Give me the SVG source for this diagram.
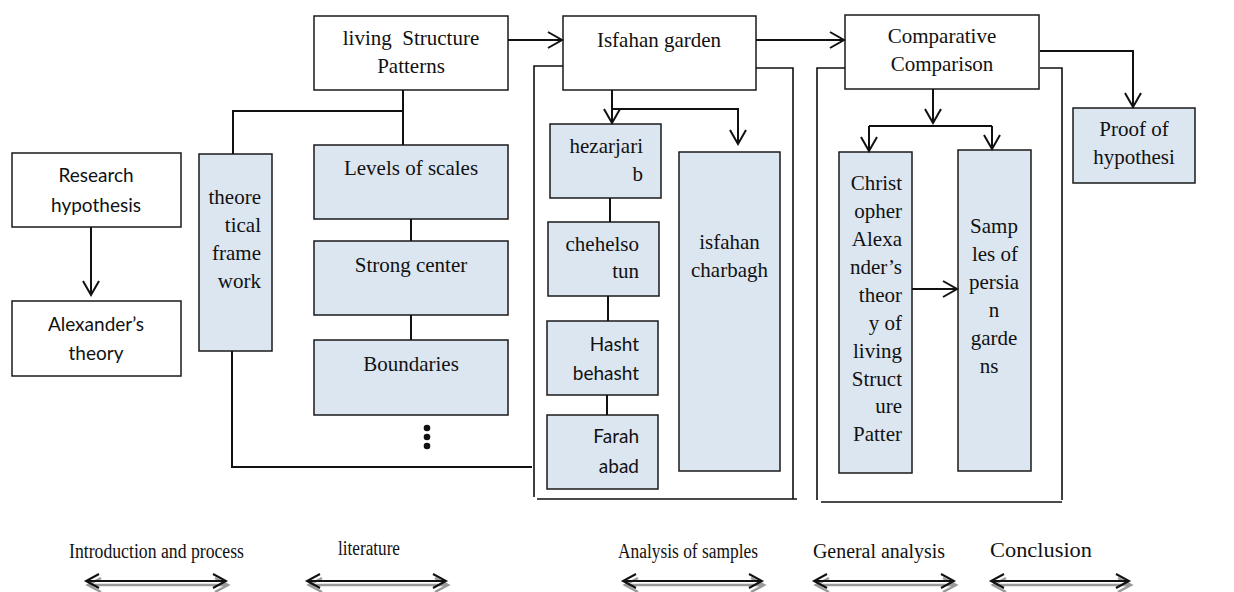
<svg xmlns="http://www.w3.org/2000/svg" width="1234" height="592" viewBox="0 0 1234 592">
<style>
.w{fill:#ffffff;stroke:#1a1a1a;stroke-width:1.5}
.b{fill:#dce6f1;stroke:#1a1a1a;stroke-width:1.5}
.s{font-family:"Liberation Serif","Times New Roman",serif;font-size:21px;fill:#111}
.c{font-family:Lato,"Liberation Sans",sans-serif;font-size:19px;fill:#111}
.m{text-anchor:middle}
.e{text-anchor:end}
.ln{fill:none;stroke:#111;stroke-width:2}
.th{fill:none;stroke:#111;stroke-width:1.6}
.lbl{font-family:"Liberation Serif","Times New Roman",serif;font-size:20px;fill:#111}
</style>
<defs>
<marker id="ah" markerUnits="userSpaceOnUse" markerWidth="18" markerHeight="20" refX="15" refY="9" orient="auto">
<path d="M1,1 L15,9 L1,17" fill="none" stroke="#111" stroke-width="2"/>
</marker>
</defs>

<g id="research-hypothesis"><rect class="w" x="12" y="153" width="169" height="74"/><text class="c m" x="96" y="182">Research</text><text class="c m" x="96" y="212">hypothesis</text></g>
<g id="alexanders-theory"><rect class="w" x="12" y="301" width="169" height="75"/><text class="c m" x="96" y="331">Alexander’s</text><text class="c m" x="96" y="360">theory</text></g>
<g id="theoretical-framework"><rect class="b" x="199" y="154" width="73" height="197"/><text class="s e" x="261" y="204">theore</text><text class="s e" x="261" y="232">tical</text><text class="s e" x="261" y="260">frame</text><text class="s e" x="261" y="288">work</text></g>
<g id="living-structure"><rect class="w" x="314" y="16" width="194" height="74"/><text class="s m" x="411" y="45" xml:space="preserve">living  Structure</text><text class="s m" x="411" y="73">Patterns</text></g>
<g id="levels-of-scales"><rect class="b" x="314" y="145" width="194" height="74"/><text class="s m" x="411" y="175">Levels of scales</text></g>
<g id="strong-center"><rect class="b" x="314" y="241" width="194" height="74"/><text class="s m" x="411" y="272">Strong center</text></g>
<g id="boundaries"><rect class="b" x="314" y="340" width="194" height="75"/><text class="s m" x="411" y="371">Boundaries</text></g>
<g id="ellipsis"><circle cx="427" cy="428" r="3.3" fill="#111"/><circle cx="427" cy="437" r="3.3" fill="#111"/><circle cx="427" cy="446" r="3.3" fill="#111"/></g>
<g id="isfahan-garden"><rect class="w" x="563" y="16" width="193" height="74"/><text class="s m" x="659" y="47">Isfahan garden</text></g>
<g id="hezarjarib"><rect class="b" x="550" y="124" width="111" height="74"/><text class="s e" x="643" y="153">hezarjari</text><text class="s e" x="643" y="181">b</text></g>
<g id="chehelsotun"><rect class="b" x="548" y="222" width="111" height="74"/><text class="s e" x="639" y="251">chehelso</text><text class="s e" x="639" y="278">tun</text></g>
<g id="hasht-behasht"><rect class="b" x="547" y="321" width="111" height="74"/><text class="c e" x="639" y="351">Hasht</text><text class="c e" x="639" y="380">behasht</text></g>
<g id="farah-abad"><rect class="b" x="547" y="415" width="111" height="74"/><text class="c e" x="639" y="443">Farah</text><text class="c e" x="639" y="473">abad</text></g>
<g id="isfahan-charbagh"><rect class="b" x="679" y="152" width="101" height="319"/><text class="s m" x="729.5" y="249">isfahan</text><text class="s m" x="729.5" y="277">charbagh</text></g>
<g id="comparative-comparison"><rect class="w" x="845" y="15" width="194" height="74"/><text class="s m" x="942" y="43">Comparative</text><text class="s m" x="942" y="71">Comparison</text></g>
<g id="christopher"><rect class="b" x="839" y="152" width="73" height="321"/>
<text class="s e" x="902" y="190">Christ</text><text class="s e" x="902" y="218">opher</text><text class="s e" x="902" y="246">Alexa</text><text class="s e" x="902" y="274">nder’s</text><text class="s e" x="902" y="302">theor</text><text class="s e" x="902" y="330">y of</text><text class="s e" x="902" y="358">living</text><text class="s e" x="902" y="386">Struct</text><text class="s e" x="902" y="413">ure</text><text class="s e" x="902" y="441">Patter</text></g>
<g id="samples"><rect class="b" x="958" y="150" width="73" height="321"/>
<text class="s m" x="994" y="233">Samp</text><text class="s m" x="995" y="261">les of</text><text class="s m" x="994" y="289">persia</text><text class="s m" x="994" y="317">n</text><text class="s m" x="994" y="345">garde</text><text class="s m" x="989" y="373">ns</text></g>
<g id="proof"><rect class="b" x="1073" y="108" width="122" height="75"/><text class="s m" x="1134" y="136">Proof of</text><text class="s m" x="1134" y="164">hypothesi</text></g>

<g id="connectors">
<path class="ln" d="M91,227 V295" marker-end="url(#ah)"/>
<path class="ln" d="M403,90 V145 M403,111 H233 V154"/>
<path class="ln" d="M411,219 V241 M411,315 V340"/>
<path class="ln" d="M232,351 V467 H532"/>
<path class="ln" d="M508,40 H562" marker-end="url(#ah)"/>
<path class="ln" d="M756,40 H844" marker-end="url(#ah)"/>
<path class="ln" d="M612,90 V123" marker-end="url(#ah)"/>
<path class="ln" d="M612,109 H738 V144" marker-end="url(#ah)"/>
<path class="ln" d="M610,198 V222 M608,296 V321 M607,395 V415"/>
<path class="th" d="M563,66 H534 V497 M537,499 H797 M756,68 H793 V499"/>
<path class="th" d="M845,68 H817 V500 M821,502 H1062 M1040,68 H1062 V500"/>
<path class="ln" d="M933,89 V123" marker-end="url(#ah)"/>
<path class="ln" d="M869,126 H992"/>
<path class="ln" d="M869,126 V151" marker-end="url(#ah)"/>
<path class="ln" d="M992,126 V149" marker-end="url(#ah)"/>
<path class="ln" d="M912,289 H957" marker-end="url(#ah)"/>
<path class="ln" d="M1040,51 H1133 V107" marker-end="url(#ah)"/>
</g>

<g id="phase-labels">
<text class="lbl" x="69" y="558" textLength="175" lengthAdjust="spacingAndGlyphs">Introduction and process</text>
<text class="lbl" x="338" y="555" textLength="62" lengthAdjust="spacingAndGlyphs">literature</text>
<text class="lbl" x="618" y="558" textLength="140" lengthAdjust="spacingAndGlyphs">Analysis of samples</text>
<text class="lbl" x="813" y="558" textLength="132" lengthAdjust="spacingAndGlyphs">General analysis</text>
<text class="lbl" x="990" y="557" textLength="102" lengthAdjust="spacingAndGlyphs">Conclusion</text>
</g>
<g id="phase-arrows">
<g transform="translate(2,3)" fill="none" stroke="#9a9a9a" stroke-width="2.5">
<path d="M86,582 H226 M99,575 L86,582 L99,589 M213,575 L226,582 L213,589"/>
<path d="M307,582 H446 M320,575 L307,582 L320,589 M433,575 L446,582 L433,589"/>
<path d="M623,582 H762 M636,575 L623,582 L636,589 M749,575 L762,582 L749,589"/>
<path d="M814,582 H954 M827,575 L814,582 L827,589 M941,575 L954,582 L941,589"/>
<path d="M991,582 H1129 M1004,575 L991,582 L1004,589 M1116,575 L1129,582 L1116,589"/>
</g>
<g fill="none" stroke="#111" stroke-width="2">
<path d="M86,581 H226 M99,574 L86,581 L99,588 M213,574 L226,581 L213,588"/>
<path d="M307,581 H446 M320,574 L307,581 L320,588 M433,574 L446,581 L433,588"/>
<path d="M623,581 H762 M636,574 L623,581 L636,588 M749,574 L762,581 L749,588"/>
<path d="M814,581 H954 M827,574 L814,581 L827,588 M941,574 L954,581 L941,588"/>
<path d="M991,581 H1129 M1004,574 L991,581 L1004,588 M1116,574 L1129,581 L1116,588"/>
</g>
</g>
</svg>
